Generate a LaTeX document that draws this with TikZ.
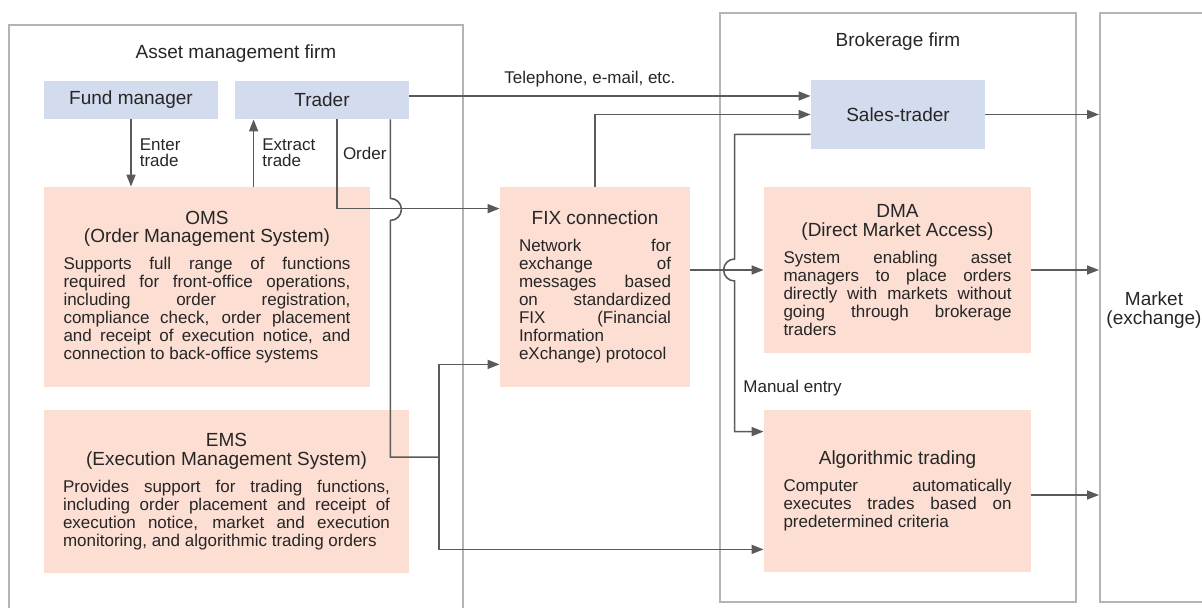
\documentclass[tikz,border=0pt]{standalone}
\usepackage{fontspec}
\setmainfont{Liberation Sans}
\usetikzlibrary{arrows.meta,calc}

\definecolor{boxblue}{HTML}{D3DCEE}
\definecolor{boxpink}{HTML}{FCDED3}
\definecolor{linegray}{HTML}{5A5A5A}
\definecolor{framegray}{HTML}{B4B4B6}
\definecolor{inkgray}{HTML}{262626}

% justified body text of a system box
\newcommand{\bodytext}[2]{\parbox[t]{#1}{\fontsize{8.5}{9}\selectfont
  \tolerance=9999 \hbadness=10000 \hyphenpenalty=10000 \exhyphenpenalty=10000 #2}}

\tikzset{
  firmbox/.style={draw=framegray, line width=1pt, inner sep=0pt},
  rolebox/.style={fill=boxblue, inner sep=0pt},
  sysbox/.style={fill=boxpink, inner sep=0pt, align=center},
  conn/.style={draw=linegray, line width=0.8pt, -{Triangle[length=6pt,width=4.5pt]}},
  wire/.style={draw=linegray, line width=0.8pt},
  tag/.style={font=\fontsize{8.5}{8}\selectfont, inner sep=0pt, align=left},
}

\begin{document}
\begin{tikzpicture}[x=0.5pt, y=-0.5pt, text=inkgray, font=\fontsize{9.5}{9.2}\selectfont]
        \useasboundingbox (0,0) rectangle (1202,608);
        \clip (0,0) rectangle (1202,608);

        % Firms
        \node[firmbox, minimum width=227pt, minimum height=297.5pt] (assetfirm) at (236,322.5) {};
        \node[firmbox, minimum width=178pt, minimum height=294pt] (brokerfirm) at (898,307.5) {};
        \node[firmbox, minimum width=60pt, minimum height=294pt] (mkt) at (1160,307.5) {};
        \node (assetlbl) at (236,54) {Asset management firm};
        \node (brokerlbl) at (898,42) {Brokerage firm};
        \node[align=center] (mktlbl) at (1154,310) {Market\\(exchange)};

        % Nodes
        \node[rolebox, minimum width=87pt, minimum height=19pt] (fund) at (131,100) {Fund manager};
        \node[rolebox, minimum width=87pt, minimum height=19pt] (trader) at (322,100) {Trader};
        \node[rolebox, minimum width=87pt, minimum height=34.5pt] (sales) at (898,114.5) {Sales-trader};

        \node[sysbox, minimum width=163pt, minimum height=100pt] (oms) at (207,287)
            {OMS\\(Order Management System)\\[4.3pt]\bodytext{143.5pt}{Supports full range of functions\linebreak
             required for front-office operations,\linebreak including order registration,\linebreak
             compliance check, order placement\linebreak and receipt of execution notice, and\linebreak
             connection to back-office systems}};
        \node[sysbox, minimum width=182.5pt, minimum height=81.5pt] (ems) at (226.5,491.5)
            {EMS\\(Execution Management System)\\[4.3pt]\bodytext{163.5pt}{Provides support for trading functions,\linebreak
             including order placement and receipt of\linebreak execution notice, market and execution\linebreak
             monitoring, and algorithmic trading orders}};
        \node[sysbox, minimum width=95pt, minimum height=100pt] (fix) at (595,287)
            {FIX connection\\[4.3pt]\bodytext{76pt}{Network for\linebreak exchange of\linebreak messages based\linebreak
             on standardized\linebreak FIX (Financial\linebreak Information\linebreak eXchange) protocol}};
        \node[sysbox, minimum width=133.5pt, minimum height=83pt] (dma) at (897.5,270)
            {DMA\\(Direct Market Access)\\[4.3pt]\bodytext{114pt}{System enabling asset\linebreak
             managers to place orders\linebreak directly with markets without\linebreak going through brokerage\linebreak traders}};
        \node[sysbox, minimum width=133.5pt, minimum height=81pt] (algo) at (897.5,491)
            {Algorithmic trading\\[4.3pt]\bodytext{114pt}{Computer automatically\linebreak
             executes trades based on\linebreak predetermined criteria}};

        % Arrows
        \draw[conn] (fund.south) -- (fund.south |- oms.north) node[tag, midway, right=4pt] {Enter\\trade};

        \coordinate (extr) at ($(trader.south west)+(19,0)$);
        \draw[conn] (extr |- oms.north) -- (extr) node[tag, midway, right=4pt] {Extract\\trade};

        \coordinate (ord) at ($(trader.south west)+(102.6,0)$);
        \draw[conn] (ord) |- ($(fix.north west)+(0,22)$) node[tag, pos=0.19, right=2.5pt] {Order};

        \coordinate (ordB) at ($(trader.south east)+(-19,0)$);
        \coordinate (split) at ($(ordB)+(48.7,337.7)$);
        \draw[wire] (ordB) -- ++(0,79) arc[start angle=-90, end angle=90, radius=11] |- (split);
        \draw[conn] (split) |- ($(fix.south west)+(0,-23)$);
        \draw[conn] (split) |- ($(algo.south west)+(0,-23)$);

        \coordinate (tel) at ($(trader.east)+(0,-4)$);
        \draw[conn] (tel) -- (tel -| sales.west) node[tag, pos=0.45, above=4pt] {Telephone, e-mail, etc.};

        \draw[conn] (fix.north) |- (sales.west);
        \draw[conn] (fix.east |- dma.west) -- (dma.west);

        \coordinate (man) at ($(sales.south west)+(0,-15)$);
        \coordinate (manv) at ($(dma.west)+(-29,0)$);
        \draw[conn] (man) -| ($(manv)+(0,-11)$) arc[start angle=-90, end angle=-270, radius=11]
            |- ($(algo.north west)+(0,22)$) node[tag, pos=0.355, right=4pt] {Manual entry};

        \draw[conn] (sales.east) -- (sales.east -| mkt.west);
        \draw[conn] (dma.east) -- (dma.east -| mkt.west);
        \coordinate (algoout) at ($(algo.east)+(0,4)$);
        \draw[conn] (algoout) -- (algoout -| mkt.west);
    \end{tikzpicture}
\end{document}
